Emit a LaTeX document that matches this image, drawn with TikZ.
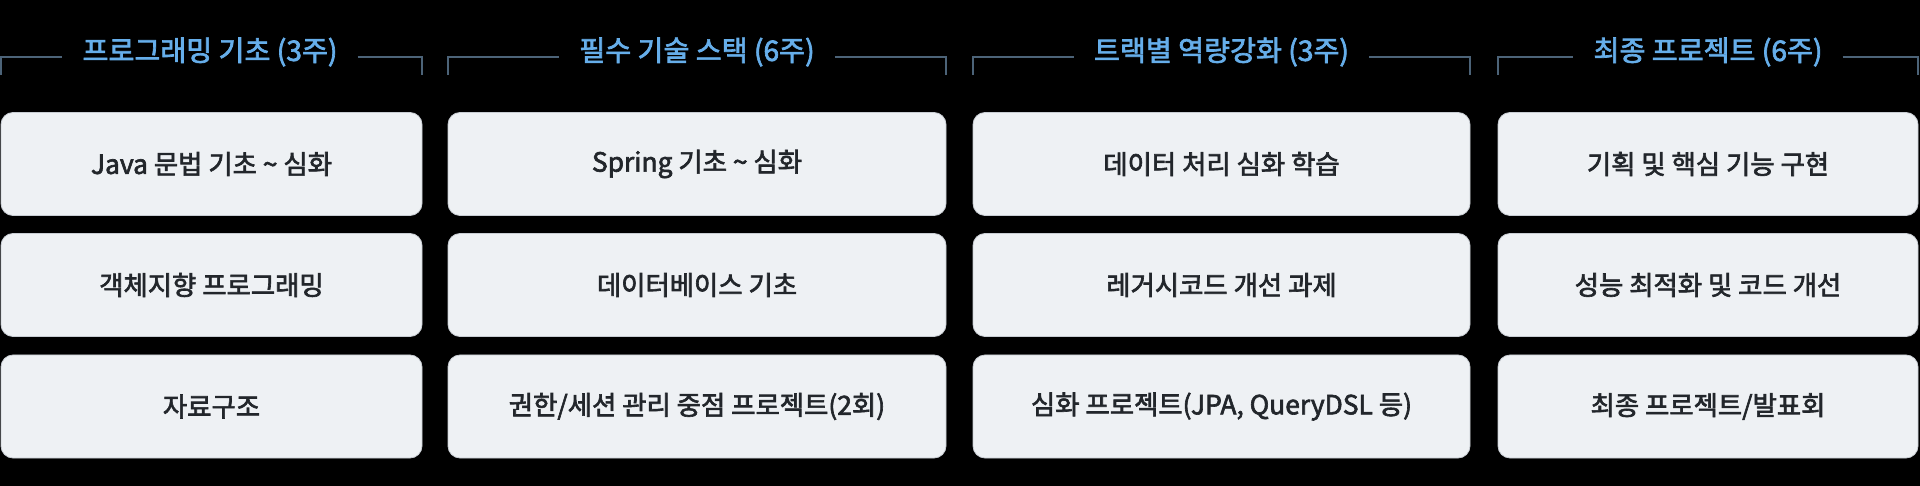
\documentclass[tikz,border=0pt]{standalone}
\usepackage{fontspec}
\setmainfont{Noto Sans CJK KR}
\newfontfamily\medfont[FakeBold=2.4]{Noto Sans CJK KR}
\definecolor{boxfill}{HTML}{EEF1F4}
\definecolor{boxedge}{HTML}{C8CDD3}
\definecolor{boxtext}{HTML}{22262B}
\definecolor{headtext}{HTML}{66AEEA}
\definecolor{headline}{HTML}{4C6378}
\tikzset{
  itembox/.style={rectangle, rounded corners=12pt, fill=boxfill, draw=boxedge, line width=0.8pt,
    minimum height=103pt, inner sep=0pt, text=boxtext, font=\medfont\fontsize{26.4}{30}\selectfont},
  headtitle/.style={inner xsep=20pt, inner ysep=0pt, text=headtext, font=\medfont\fontsize{28.2}{32}\selectfont},
  bracket/.style={draw=headline, line width=2pt}
}
\begin{document}
\begin{tikzpicture}[x=1pt,y=-1pt]
\useasboundingbox[fill=black] (0,0) rectangle (1920,486);
% columns: left, right
\foreach \n/\L/\R in {1/1/422, 2/448/946, 3/973/1470, 4/1498/1918}{
  \coordinate (c\n la) at (\L,75);
  \coordinate (c\n lb) at (\L,57);
  \coordinate (c\n ra) at (\R,75);
  \coordinate (c\n rb) at (\R,57);
}
% headers
\node[headtitle] (h1) at (210,52) {프로그래밍 기초 (3주)};
\node[headtitle] (h2) at (697,52) {필수 기술 스택 (6주)};
\node[headtitle] (h3) at (1221.5,52) {트랙별 역량강화 (3주)};
\node[headtitle] (h4) at (1708,52) {최종 프로젝트 (6주)};
\foreach \n in {1,2,3,4}{
  \draw[bracket] (c\n la) -- (c\n lb) -- (h\n.west |- c\n lb);
  \draw[bracket] (h\n.east |- c\n rb) -- (c\n rb) -- (c\n ra);
}
% boxes column 1
\node[itembox, minimum width=421pt] (a1) at (211.5,164) {Java 문법 기초 \textasciitilde{} 심화};
\node[itembox, minimum width=421pt] (a2) at (211.5,285) {객체지향 프로그래밍};
\node[itembox, minimum width=421pt] (a3) at (211.5,406.5) {자료구조};
% column 2
\node[itembox, minimum width=498pt] (b1) at (697,164) {Spring 기초 \textasciitilde{} 심화};
\node[itembox, minimum width=498pt] (b2) at (697,285) {데이터베이스 기초};
\node[itembox, minimum width=498pt] (b3) at (697,406.5) {권한/세션 관리 중점 프로젝트(2회)};
% column 3
\node[itembox, minimum width=497pt] (d1) at (1221.5,164) {데이터 처리 심화 학습};
\node[itembox, minimum width=497pt] (d2) at (1221.5,285) {레거시코드 개선 과제};
\node[itembox, minimum width=497pt] (d3) at (1221.5,406.5) {심화 프로젝트(JPA, QueryDSL 등)};
% column 4
\node[itembox, minimum width=420pt] (e1) at (1708,164) {기획 및 핵심 기능 구현};
\node[itembox, minimum width=420pt] (e2) at (1708,285) {성능 최적화 및 코드 개선};
\node[itembox, minimum width=420pt] (e3) at (1708,406.5) {최종 프로젝트/발표회};
\end{tikzpicture}
\end{document}
